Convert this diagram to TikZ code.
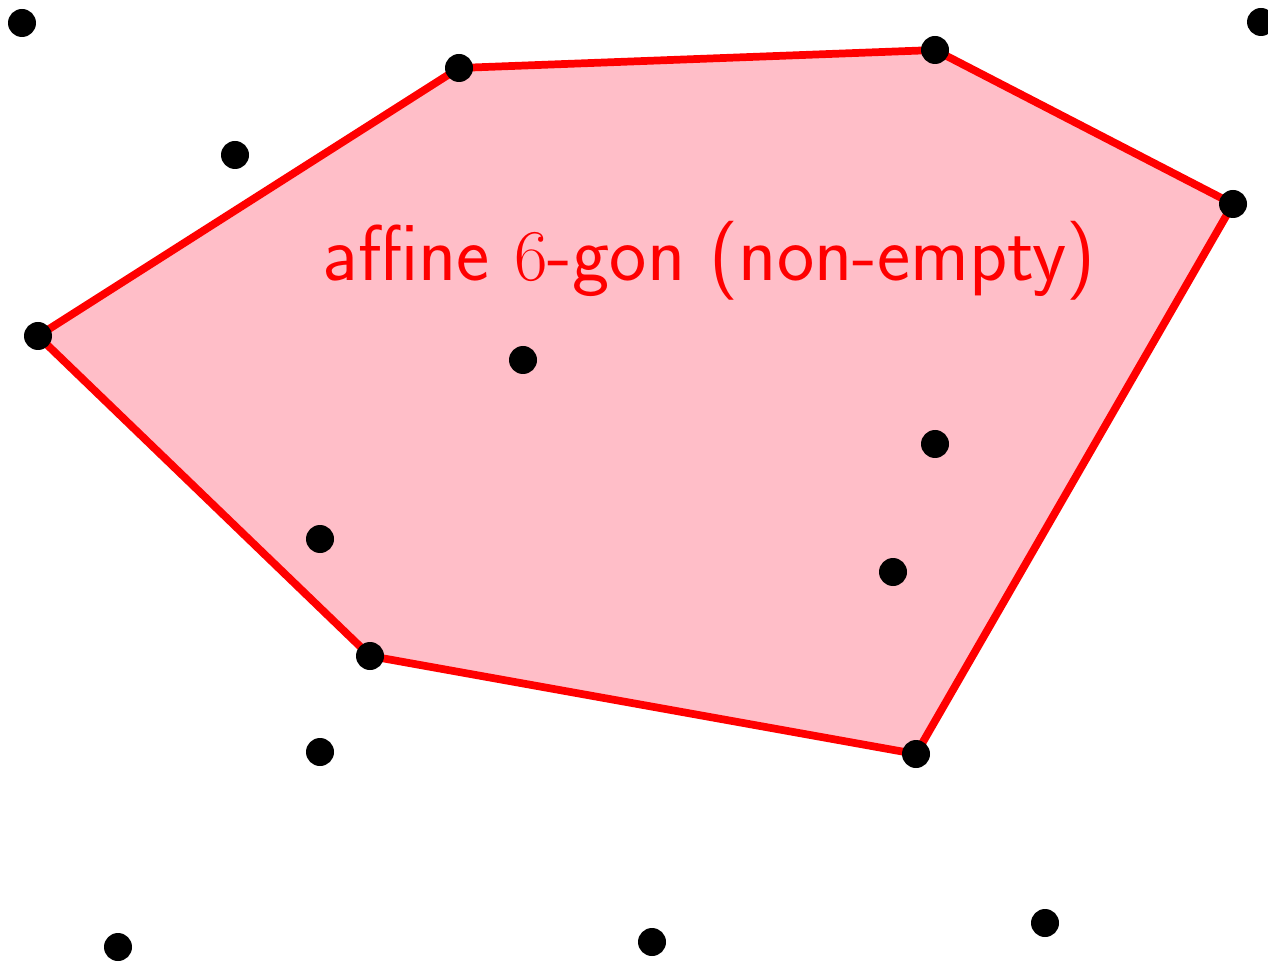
\documentclass[tikz,border=0pt]{standalone}
\usepackage{tikz}
\definecolor{hullfill}{RGB}{255,190,200}
\tikzset{
  pt/.style={fill=black},
  hull/.style={draw=red, line width=2.2pt, fill=hullfill, line join=round}
}
\begin{document}
\begin{tikzpicture}[x=1cm, y=1cm]
    \clip (0,0) rectangle (12.68,9.61);
    \useasboundingbox (0,0) rectangle (12.68,9.61);

    % Hull vertices
    \coordinate (v1) at (0.38, 6.25);
    \coordinate (v2) at (4.59, 8.93);
    \coordinate (v3) at (9.35, 9.11);
    \coordinate (v4) at (12.33, 7.57);
    \coordinate (v5) at (9.16, 2.07);
    \coordinate (v6) at (3.70, 3.05);

    % Hexagon
    \draw[hull] (v1) -- (v2) -- (v3) -- (v4) -- (v5) -- (v6) -- cycle;

    \node[red, anchor=base, font=\sffamily\fontsize{22.5}{26}\selectfont] (lbl) at (7.09, 6.80)
      {affine $6$-gon (non-empty)};

    % Point set
    \foreach \p in {(0.22,9.38), (12.61,9.39), (2.35,8.06), (5.23,6.01), (9.35,5.17),
                    (3.20,4.22), (8.93,3.89), (3.20,2.09), (1.18,0.14), (6.52,0.19), (10.45,0.38)} {
      \fill[pt] \p circle (0.14);
    }
    \foreach \v in {v1,v2,v3,v4,v5,v6} {
      \fill[pt] (\v) circle (0.14);
    }
\end{tikzpicture}
\end{document}
